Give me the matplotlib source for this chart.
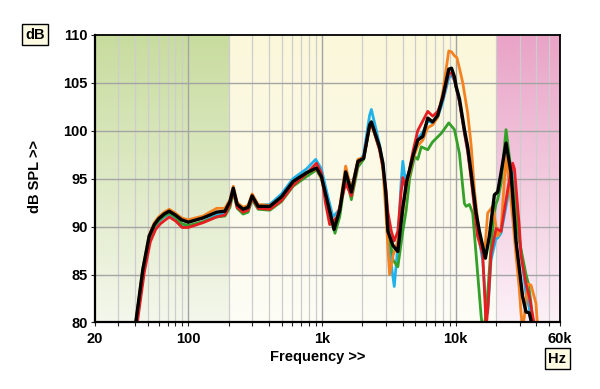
import numpy as np
import matplotlib
matplotlib.use("Agg")
import matplotlib.pyplot as plt
from matplotlib.ticker import FixedLocator, NullFormatter

plt.rcParams['font.family'] = ['Liberation Sans', 'DejaVu Sans']

# ---- data ----
blue_f = [41, 46.5, 51.5, 56, 60, 66, 72, 80, 89, 100, 129, 163, 188, 205, 217, 232, 257, 280, 300, 333,
          407, 498, 608, 765, 897, 990, 1089, 1208, 1356, 1503, 1657, 1857, 2048, 2270, 2340, 2500, 2694,
          2853, 3000, 3110, 3300, 3470, 3690, 3900, 4020, 4200, 4520, 4780, 5200, 5670, 6180, 6730, 7340,
          8000, 8870, 9300, 9780, 10660, 11610, 12290, 13030, 14200, 15030, 15900, 16660, 17330, 18370,
          20020, 20580, 21820, 24440, 26000, 26630, 28230, 29880, 33530, 35480, 36530, 37500]
blue_db = [80, 85.3, 88.6, 89.9, 90.5, 91.0, 91.3, 90.9, 90.2, 90.0, 90.5, 91.2, 91.3, 92.3, 93.8, 92.1,
           91.6, 91.9, 93.1, 92.2, 92.3, 93.4, 95.0, 96.0, 97.0, 96.0, 93.5, 91.0, 91.8, 95.5, 94.0, 96.6,
           97.5, 101.6, 102.2, 100.5, 98.5, 96.5, 93.0, 89.5, 86.0, 83.75, 88.0, 94.5, 96.8, 94.8, 95.8,
           97.4, 99.2, 99.8, 101.0, 100.8, 101.4, 103.0, 105.5, 105.8, 105.2, 103.0, 99.8, 97.8, 95.2,
           90.8, 88.5, 86.5, 82.5, 81.0, 86.5, 88.8, 88.8, 89.3, 93.0, 95.5, 95.8, 92.0, 89.0, 83.0, 81.5,
           80.0, 79.5]

green_f = [40.5, 45.7, 51, 55.7, 60, 66, 72, 80, 89, 100, 129, 163, 188, 205, 217, 232, 257, 280, 300,
           333, 407, 498, 608, 765, 909, 990, 1089, 1250, 1356, 1503, 1657, 1857, 2048, 2270, 2340, 2694,
           2853, 3000, 3110, 3400, 3690, 4020, 4260, 4520, 4920, 5200, 5520, 6180, 6700, 7780, 8870, 9780,
           10660, 11610, 11960, 12650, 13390, 15500, 16000, 16400, 17330, 18370, 19450, 20020, 20580,
           21820, 23770, 26630, 29880, 33530, 35000, 36530, 38000]
green_db = [80, 85.3, 88.8, 90.0, 90.6, 91.1, 91.4, 91.0, 90.3, 90.1, 90.5, 91.0, 91.1, 92.0, 93.6, 91.9,
            91.3, 91.5, 92.8, 91.8, 91.7, 92.6, 94.2, 95.2, 95.9, 95.0, 92.5, 89.3, 91.0, 95.3, 92.8, 96.2,
            97.0, 100.4, 100.7, 98.0, 96.2, 93.0, 90.0, 86.5, 85.8, 89.5, 91.7, 95.0, 97.3, 97.0, 98.3,
            98.0, 98.8, 99.7, 100.8, 100.1, 97.6, 92.4, 92.1, 92.3, 91.4, 80.6, 79.0, 79.5, 83.0, 88.0,
            91.5, 92.4, 92.8, 94.5, 100.1, 94.5, 88.5, 85.0, 84.0, 82.0, 79.5]

orange_f = [40.5, 45.7, 51, 55.7, 60, 66, 72, 80, 89, 100, 129, 163, 188, 205, 217, 232, 257, 280, 300,
            333, 407, 498, 608, 765, 909, 990, 1089, 1230, 1356, 1503, 1657, 1857, 2048, 2270, 2340, 2694,
            2853, 3000, 3200, 3400, 3690, 4020, 4300, 4520, 4780, 5200, 5670, 6180, 6730, 7340, 8000, 8870,
            9300, 9780, 10200, 10660, 11280, 12290, 13030, 13800, 14500, 15030, 15900, 16660, 17330, 18890,
            20580, 21820, 23770, 24440, 26630, 28230, 29880, 30770, 31620, 32500, 34460, 36530, 39810, 40930]
orange_db = [80, 85.6, 89.1, 90.4, 91.0, 91.5, 91.8, 91.4, 90.9, 90.7, 91.1, 91.9, 91.9, 92.8, 94.2, 92.5,
             92.0, 92.2, 93.4, 92.3, 92.2, 93.0, 94.6, 95.6, 96.0, 95.0, 92.5, 90.0, 92.0, 96.3, 93.8, 97.0,
             97.2, 100.4, 100.7, 98.2, 96.0, 91.5, 85.0, 87.0, 88.5, 91.5, 94.3, 95.6, 97.0, 98.4, 99.0,
             100.3, 100.6, 101.4, 104.0, 108.3, 108.2, 107.8, 107.6, 106.5, 105.0, 101.8, 98.5, 93.8, 91.0,
             89.0, 87.2, 88.3, 91.4, 92.1, 89.0, 89.7, 97.3, 96.0, 91.0, 87.0, 83.5, 81.0, 79.5, 80.5, 84.0,
             83.9, 82.0, 79.5]

red_f = [41.6, 47, 52, 57, 62, 72, 80, 90, 100, 129, 163, 188, 205, 217, 232, 257, 280, 300, 333, 407,
         498, 608, 765, 909, 990, 1060, 1141, 1300, 1503, 1657, 1857, 2048, 2270, 2340, 2694, 2853, 3000,
         3110, 3300, 3470, 3690, 3900, 4020, 4200, 4520, 4780, 5200, 5670, 6180, 6730, 7340, 8000, 8870,
         9300, 9780, 10660, 11610, 12290, 13030, 14550, 15900, 16900, 17500, 18370, 20020, 21820, 24440,
         26630, 27500, 29880, 30770, 33530, 35480, 38670]
red_db = [80, 85.3, 88.4, 89.7, 90.3, 91.0, 90.6, 89.9, 89.9, 90.4, 91.0, 91.2, 92.3, 93.8, 92.0, 91.5,
          91.7, 93.0, 91.9, 91.8, 92.7, 94.3, 95.5, 96.6, 95.6, 92.5, 90.2, 91.0, 94.5, 93.2, 96.6, 97.2,
          100.5, 100.8, 98.0, 96.2, 94.0, 91.5, 89.5, 88.5, 89.5, 93.5, 95.1, 94.2, 96.0, 97.8, 100.0,
          101.0, 102.0, 101.5, 102.0, 103.3, 106.0, 106.0, 105.3, 103.0, 99.8, 97.8, 95.0, 89.0, 87.2,
          79.5, 82.0, 87.2, 89.8, 89.5, 93.8, 96.6, 96.0, 90.0, 87.0, 84.0, 82.7, 79.8]

black_f = [40.5, 45.7, 51, 55.7, 60, 66, 72, 80, 89, 100, 129, 163, 188, 205, 217, 232, 257, 280, 300,
           333, 407, 498, 608, 765, 909, 990, 1089, 1230, 1356, 1503, 1657, 1857, 2048, 2270, 2340, 2694,
           2853, 3000, 3110, 3400, 3690, 4020, 4300, 4520, 4780, 5200, 5670, 6180, 6730, 7340, 8000, 8870,
           9300, 9780, 10070, 10660, 11610, 12290, 13030, 14200, 15030, 16660, 17840, 19450, 20580, 21820,
           23770, 25900, 28230, 31620, 33530, 35480, 37550]
black_db = [80, 85.5, 89.0, 90.2, 90.8, 91.3, 91.6, 91.2, 90.7, 90.45, 90.9, 91.5, 91.6, 92.6, 94.0, 92.3,
            91.8, 92.0, 93.2, 92.1, 92.1, 93.1, 94.7, 95.6, 96.1, 95.2, 92.8, 89.7, 91.7, 95.7, 93.6, 96.8,
            97.1, 100.6, 100.9, 98.3, 96.6, 93.5, 89.5, 88.0, 87.4, 92.0, 94.7, 95.9, 97.3, 99.0, 99.4,
            101.3, 100.9, 101.6, 103.5, 106.4, 106.5, 105.6, 104.6, 103.3, 100.1, 98.3, 95.6, 91.4, 89.5,
            86.7, 89.0, 93.3, 93.6, 95.6, 98.7, 95.6, 88.5, 82.7, 81.1, 81.0, 79.5]

x_ticks = [20, 100, 1000, 10000, 60000]
x_labels = ['20', '100', '1k', '10k', '60k']
y_ticks = [80, 85, 90, 95, 100, 105, 110]

# ---- figure ----
fig = plt.figure(figsize=(6.0, 3.89), dpi=100)
ax = fig.add_axes([0.158, 0.171, 0.775, 0.740])
ax.set_xscale('log')

# background bands (gradient, axes coordinates)
lo, hi = np.log10(20), np.log10(60000)
b1 = (np.log10(200) - lo) / (hi - lo)
b2 = (np.log10(20000) - lo) / (hi - lo)


def band(x0, x1, top, bottom):
    t = np.linspace(0, 1, 256)[:, None]
    top = np.array(matplotlib.colors.to_rgb(top))
    bottom = np.array(matplotlib.colors.to_rgb(bottom))
    img = top[None, None, :] * (1 - t[:, :, None]) + bottom[None, None, :] * t[:, :, None]
    ax.imshow(img, extent=[x0, x1, 0, 1], transform=ax.transAxes, aspect='auto',
              origin='upper', zorder=0, interpolation='bilinear')


band(0, b1, '#c8dc9e', '#f4f7ec')
band(b1, b2, '#fbf7da', '#fefdf6')
band(b2, 1, '#e9a3c6', '#fcf1f7')

# grid
minor = [m * d for d in (10, 100, 1000, 10000) for m in range(2, 10) if 20 < m * d < 60000]
ax.xaxis.set_major_locator(FixedLocator(x_ticks))
ax.xaxis.set_minor_locator(FixedLocator(minor))
ax.xaxis.set_minor_formatter(NullFormatter())
ax.set_xticklabels(x_labels)
ax.set_yticks(y_ticks)
ax.set_axisbelow(True)
for f in [100, 1000, 10000]:
    ax.axvline(f, color='#a4a4a4', lw=1.0, zorder=0.6)
for f in minor:
    ax.axvline(f, color='#cdcdcd', lw=0.9, zorder=0.5)
for v in y_ticks[1:-1]:
    ax.axhline(v, color='#a4a4a4', lw=1.0, zorder=0.6)

# curves
kw = dict(solid_joinstyle='round', solid_capstyle='round')
ax.plot(blue_f, blue_db, color='#22b2ea', lw=2.0, zorder=2, **kw)
ax.plot(green_f, green_db, color='#34a02a', lw=2.0, zorder=2.1, **kw)
ax.plot(orange_f, orange_db, color='#f58220', lw=2.0, zorder=2.2, **kw)
ax.plot(red_f, red_db, color='#e61e22', lw=2.0, zorder=2.3, **kw)
ax.plot(black_f, black_db, color='#000000', lw=2.4, zorder=3, **kw)

ax.set_xlim(20, 60000)
ax.set_ylim(80, 110)

for s in ax.spines.values():
    s.set_color('black')
    s.set_linewidth(1.3)
ax.spines['left'].set_linewidth(1.6)
ax.spines['bottom'].set_linewidth(1.6)

ax.tick_params(axis='both', which='both', direction='out', length=3, width=0.8, color='#222222',
               labelsize=10.5, pad=2)
ax.tick_params(axis='x', which='both', top=False, pad=4)
ax.tick_params(axis='y', which='both', right=False)
for lab in ax.get_xticklabels() + ax.get_yticklabels():
    lab.set_fontweight('bold')

fig.text(0.53, 0.082, 'Frequency >>', ha='center', va='center', fontsize=10.5, fontweight='bold')
fig.text(0.058, 0.545, 'dB SPL >>', ha='center', va='center', rotation=90, fontsize=10.5,
         fontweight='bold')
box = dict(boxstyle='square,pad=0.22', facecolor='#fdfbe2', edgecolor='black', linewidth=1.0)
fig.text(0.058, 0.911, 'dB', ha='center', va='center', fontsize=10.5, fontweight='bold', bbox=box)
fig.text(0.929, 0.078, 'Hz', ha='center', va='center', fontsize=10.5, fontweight='bold', bbox=box)

fig.savefig('out.png', dpi=100)
